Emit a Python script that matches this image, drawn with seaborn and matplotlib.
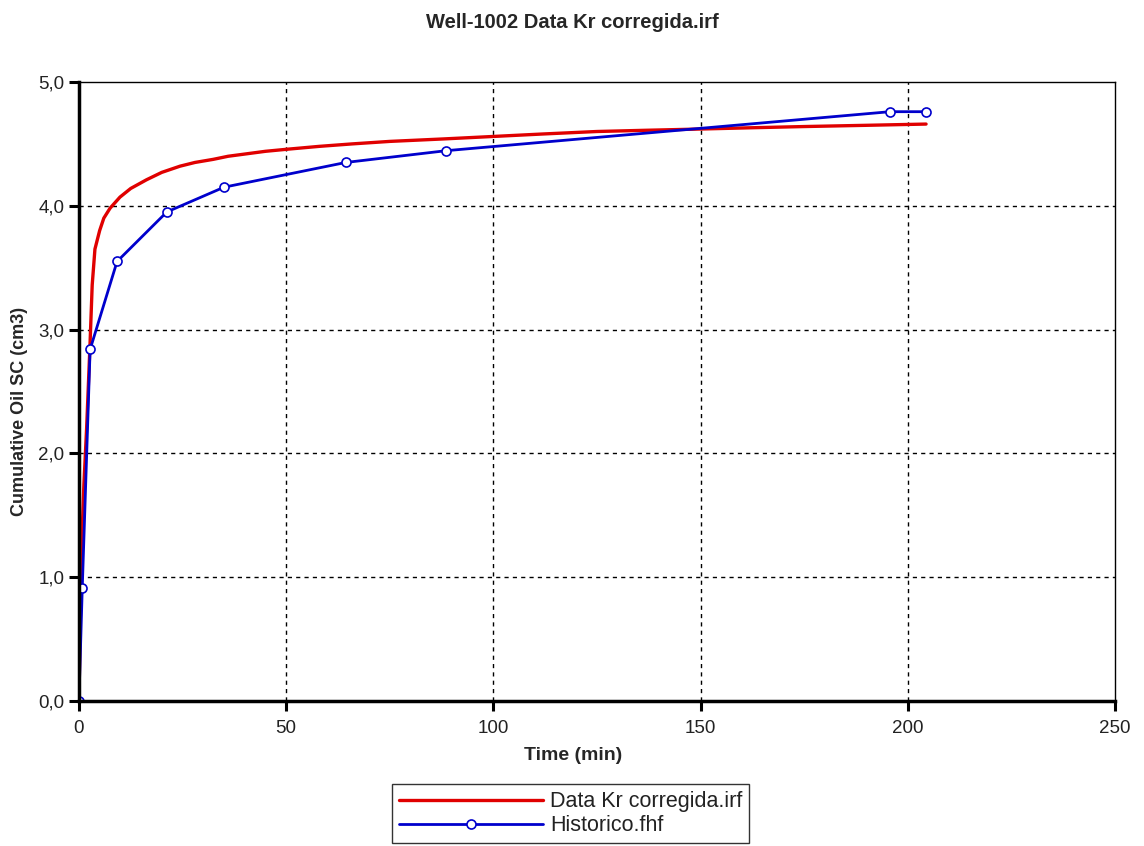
import matplotlib
matplotlib.use("Agg")
import matplotlib.pyplot as plt
import seaborn as sns
import pandas as pd
from matplotlib.ticker import FuncFormatter

# ---- data ----
sim_time = [0, 0.3, 0.65, 1.2, 1.85, 2.65, 3.2, 3.86, 5.0, 6.0, 7.5, 9.9, 12.5, 16.3, 20,
            24.4, 28, 32.4, 36, 40.5, 45, 50, 58, 66, 75, 88, 100, 112, 125, 137, 150,
            162, 175, 190, 204.4]
sim_oil = [0, 0.6, 1.25, 1.75, 2.2, 2.86, 3.36, 3.65, 3.8, 3.9, 3.98, 4.07, 4.14, 4.21, 4.27,
           4.32, 4.35, 4.375, 4.40, 4.42, 4.44, 4.456, 4.48, 4.50, 4.52, 4.54, 4.56, 4.58,
           4.60, 4.61, 4.62, 4.63, 4.64, 4.65, 4.66]
hist_time = [0, 0.8, 2.7, 9.2, 21.2, 35.0, 64.4, 88.6, 195.7, 204.4]
hist_oil = [0, 0.91, 2.84, 3.55, 3.95, 4.15, 4.35, 4.445, 4.76, 4.76]

sim_label = "Data Kr corregida.irf"
hist_label = "Historico.fhf"
title = "Well-1002 Data Kr corregida.irf"
xlabel = "Time (min)"
ylabel = "Cumulative Oil SC (cm3)"

sim_df = pd.DataFrame({"t": sim_time, "oil": sim_oil})
hist_df = pd.DataFrame({"t": hist_time, "oil": hist_oil})

sns.set_style("white")
plt.rcParams["font.family"] = ["Liberation Sans", "DejaVu Sans"]

fig = plt.figure(figsize=(11.44, 8.46), dpi=100)
ax = fig.add_axes([0.069, 0.1714, 0.9057, 0.7317])

sns.lineplot(data=sim_df, x="t", y="oil", ax=ax, color="#e00000", linewidth=2.4,
             label=sim_label, sort=False, estimator=None)
sns.lineplot(data=hist_df, x="t", y="oil", ax=ax, color="#0000cc", linewidth=2.0,
             marker="o", markersize=6.5, markerfacecolor="white", markeredgecolor="#0000cc",
             markeredgewidth=1.2, label=hist_label, sort=False, estimator=None)

ax.set_xlim(0, 250)
ax.set_ylim(0, 5)
ax.set_xticks([0, 50, 100, 150, 200, 250])
ax.set_yticks([0, 1, 2, 3, 4, 5])
ax.yaxis.set_major_formatter(FuncFormatter(lambda v, p: f"{v:.1f}".replace(".", ",")))

for xv in [50, 100, 150, 200]:
    ax.axvline(xv, color="black", linestyle=(0, (3, 3)), linewidth=1.0, zorder=0)
for yv in [1, 2, 3, 4]:
    ax.axhline(yv, color="black", linestyle=(0, (3, 3)), linewidth=1.0, zorder=0)

for side in ["left", "bottom"]:
    ax.spines[side].set_linewidth(2.5)
    ax.spines[side].set_color("black")
for side in ["top", "right"]:
    ax.spines[side].set_linewidth(1.0)
    ax.spines[side].set_color("black")

ax.tick_params(axis="both", direction="out", length=7.5, width=2.2, labelsize=13.5,
               colors="black", pad=6, left=True, bottom=True, top=False, right=False)
ax.tick_params(axis="y", pad=3)
for lbl in ax.get_xticklabels() + ax.get_yticklabels():
    lbl.set_color("#222222")

ax.set_xlabel(xlabel, fontsize=14, fontweight="bold")
ax.set_ylabel(ylabel, fontsize=13, fontweight="bold")
ax.xaxis.set_label_coords(0.477, -0.075)
ax.yaxis.set_label_coords(-0.049, 0.467)
fig.text(0.5, 1 - 22 / 846, title, ha="center", va="center", fontsize=14.5, fontweight="bold")

ax.get_legend().remove()
handles, labels = ax.get_legend_handles_labels()
leg = fig.legend(handles, labels, loc="upper left", bbox_to_anchor=(392 / 1144, 1 - 784 / 846),
                 ncol=1, fontsize=15.5, frameon=True, fancybox=False, edgecolor="black",
                 handlelength=6.7, handletextpad=0.3, borderpad=0.33, labelspacing=0.15,
                 borderaxespad=0)
leg.get_frame().set_linewidth(1.0)
for t in leg.get_texts():
    t.set_color("#222222")

fig.savefig("out.png", dpi=100, facecolor="white")
